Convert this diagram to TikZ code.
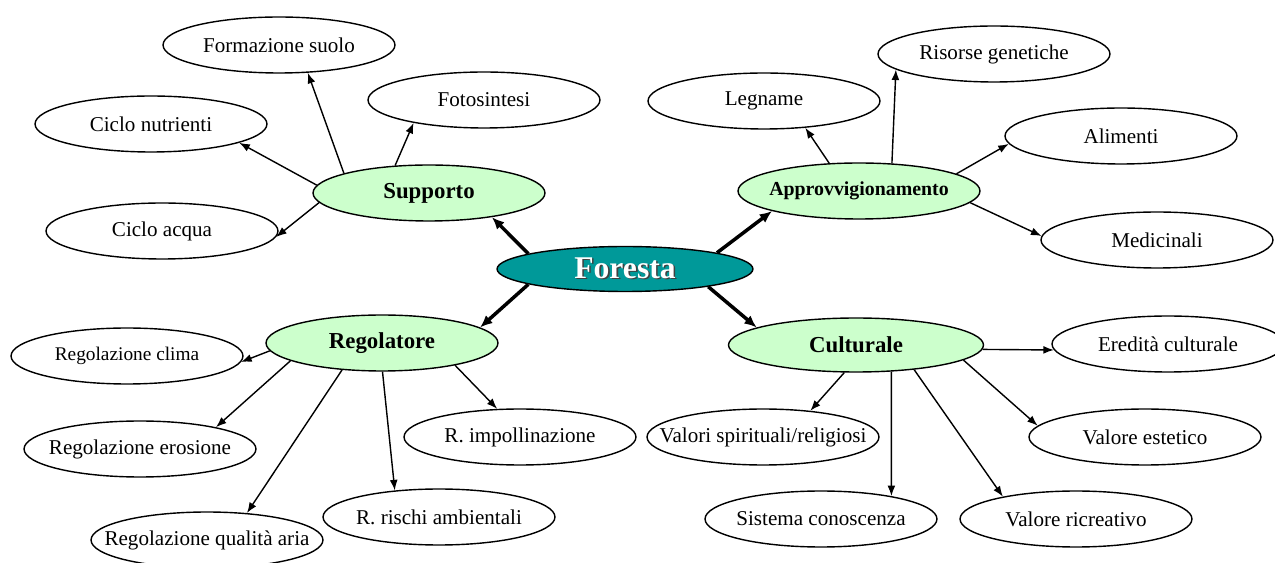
\documentclass[tikz,border=0pt]{standalone}
\usepackage{fontspec}
\setmainfont{Liberation Serif}
\usetikzlibrary{shapes,arrows.meta}
\definecolor{forestcol}{RGB}{0,153,153}
\definecolor{catgreen}{RGB}{204,255,204}
\newcommand{\shadowtext}[1]{\rlap{\kern0.9pt\raisebox{-0.9pt}{\textcolor{black!75}{#1}}}\textcolor{white}{#1}}

\begin{document}
\begin{tikzpicture}[x=0.02cm,y=-0.02cm,
  leaf/.style={ellipse,draw,line width=0.8pt,minimum width=4.64cm,minimum height=1.12cm,inner ysep=0pt,inner xsep=-2.5cm,
    font=\fontsize{12}{14}\selectfont},
  cat/.style={ellipse,draw,line width=0.8pt,fill=catgreen,minimum width=4.64cm,minimum height=1.12cm,inner ysep=0pt,inner xsep=-2.5cm,
    font=\fontsize{13}{15}\selectfont\bfseries},
  root/.style={ellipse,draw,line width=0.8pt,fill=forestcol,minimum width=5.12cm,minimum height=0.9cm,inner ysep=0pt,inner xsep=-2.5cm,
    font=\fontsize{18}{20}\selectfont\bfseries},
  link/.style={-{Latex[length=6pt,width=4.5pt]},line width=0.8pt},
  mainlink/.style={-{Latex[length=7pt,width=6pt]},line width=2pt}]
\useasboundingbox (0,0) rectangle (1275,563);

% centre and the four groups
\node[root] (for) at (625,269) {\shadowtext{Foresta}};
\node[cat] (sup) at (429,193) {Supporto};
\node[cat,minimum width=4.84cm,font=\fontsize{11.3}{13}\selectfont\bfseries] (app) at (859,191) {Approvvigionamento};
\node[cat] (reg) at (382,343) {Regolatore};
\node[cat,minimum width=5.1cm,minimum height=1.08cm] (cul) at (856,345) {Culturale};

% supporto
\node[leaf] (fs) at (279,45) {Formazione suolo};
\node[leaf] (foto) at (484,100) {Fotosintesi};
\node[leaf] (cn) at (151,124) {Ciclo nutrienti};
\node[leaf] (ca) at (162,231) {Ciclo acqua};
% approvvigionamento
\node[leaf] (leg) at (764,101) {Legname};
\node[leaf] (ris) at (994,54) {Risorse genetiche};
\node[leaf] (ali) at (1121,136) {Alimenti};
\node[leaf] (med) at (1157,240) {Medicinali};
% regolatore
\node[leaf,font=\fontsize{11}{13}\selectfont] (clima) at (127,356) {Regolazione clima};
\node[leaf] (ero) at (140,449) {Regolazione erosione};
\node[leaf] (aria) at (207,540) {Regolazione qualità aria};
\node[leaf] (rischi) at (439,517) {R. rischi ambientali};
\node[leaf] (impo) at (520,437) {R. impollinazione};
% culturale
\node[leaf] (ered) at (1168,344) {Eredità culturale};
\node[leaf] (spir) at (763,437) {Valori spirituali/religiosi};
\node[leaf] (est) at (1145,437) {Valore estetico};
\node[leaf] (sist) at (821,519) {Sistema conoscenza};
\node[leaf] (ricr) at (1076,519) {Valore ricreativo};

% thick arrows from the centre
\draw[mainlink] (for.171) -- (sup.-21);
\draw[mainlink] (for.10) -- (app.-167);
\draw[mainlink] (for.189.6) -- (reg.9);
\draw[mainlink] (for.-12) -- (cul.170);

\draw[link] (sup.167) -- (fs.-44);
\draw[link] (sup.141) -- (foto.-162);
\draw[link] (sup.176) -- (cn.-12);
\draw[link] (sup.185) -- (ca.-3);

\draw[link] (app.137) -- (leg.-33);
\draw[link] (app.40) -- (ris.-171);
\draw[link] (app.10) -- (ali.-176);
\draw[link] (app.-6) -- (med.178);

\draw[link] (reg.184) -- (clima.-3);
\draw[link] (reg.191) -- (ero.16);
\draw[link] (reg.214) -- (aria.34);
\draw[link] (reg.-89) -- (rischi.149);
\draw[link] (reg.-17) -- (impo.129);

\draw[link] (cul.-2.3) -- (ered.183);
\draw[link] (cul.247) -- (spir.29);
\draw[link] (cul.-37.4) -- (sist.18);
\draw[link] (cul.-23) -- (ricr.163.4);
\draw[link] (cul.-8) -- (est.174.2);
\end{tikzpicture}
\end{document}
